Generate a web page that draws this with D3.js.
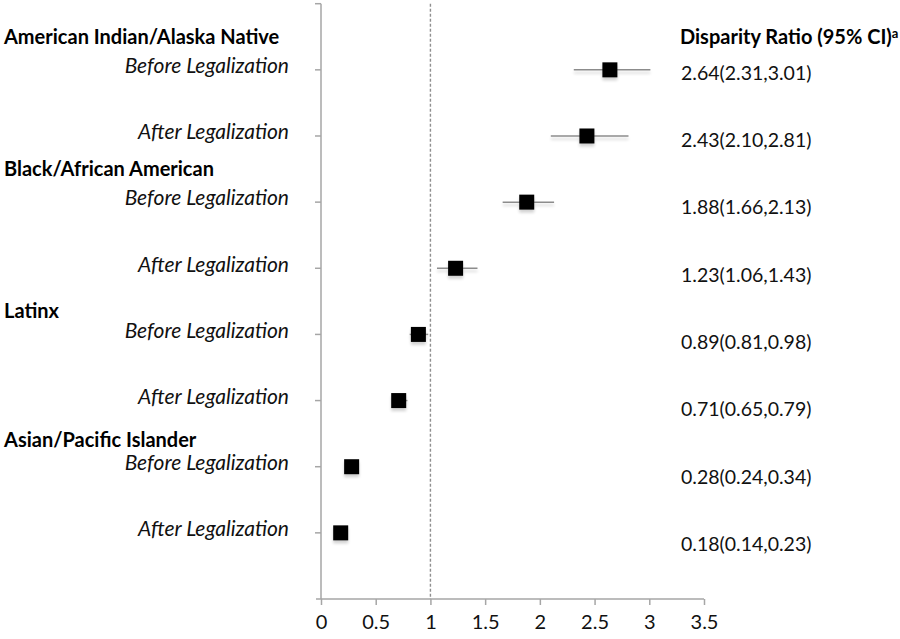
<!DOCTYPE html>
<html>
<head>
<meta charset="utf-8">
<script src="https://cdn.jsdelivr.net/npm/d3@7"></script>
<style>
  body { margin: 0; background: #fff; }
  svg { display: block; font-family: Lato, "Open Sans", sans-serif; }
</style>
</head>
<body>
<div id="chart"></div>
<script>
// data
var groups = ["American Indian/Alaska Native", "Black/African American", "Latinx", "Asian/Pacific Islander"];
var groupRow = [-0.5, 1.5, 3.65, 5.6];   // where each group title sits, in row units
var periods = ["Before Legalization", "After Legalization"];
var ratio = [2.64, 2.43, 1.88, 1.23, 0.89, 0.71, 0.28, 0.18];
var lower = [2.31, 2.10, 1.66, 1.06, 0.81, 0.65, 0.24, 0.14];
var upper = [3.01, 2.81, 2.13, 1.43, 0.98, 0.79, 0.34, 0.23];
var xTicks = [0, 0.5, 1, 1.5, 2, 2.5, 3, 3.5];

var width = 900, height = 639;

var rows = ratio.map(function (d, i) {
    return { i: i, ratio: d, lo: lower[i], hi: upper[i], period: periods[i % 2] };
});

var svg = d3.select("#chart")
    .append("svg")
    .attr("width", width)
    .attr("height", height);

// soft shadow like the original
var defs = svg.append("defs");
var f = defs.append("filter").attr("id", "shadow")
    .attr("x", "-20%").attr("y", "-100%").attr("width", "140%").attr("height", "400%");
f.append("feGaussianBlur").attr("in", "SourceAlpha").attr("stdDeviation", 1.5).attr("result", "b");
f.append("feOffset").attr("in", "b").attr("dy", 3).attr("result", "o");
f.append("feComponentTransfer").attr("in", "o").attr("result", "s")
    .append("feFuncA").attr("type", "linear").attr("slope", 0.18);
var m = f.append("feMerge");
m.append("feMergeNode").attr("in", "s");
m.append("feMergeNode").attr("in", "SourceGraphic");

var x = d3.scaleLinear().domain([0, 3.5]).range([321, 704]);
var y = d3.scaleLinear().domain([-1, 8]).range([3.7, 599]);
var yText = d3.scaleLinear().domain([0, 7]).range([73, 544]);

var axisColor = "#a6a6a6";

// y axis line with tick marks
svg.append("line")
    .attr("x1", x(0)).attr("x2", x(0))
    .attr("y1", y(-1)).attr("y2", y(8))
    .attr("stroke", axisColor).attr("stroke-width", 1.5);

svg.selectAll(".ytick")
    .data(d3.range(-1, 8))
    .enter()
    .append("line")
    .attr("x1", x(0) - 6).attr("x2", x(0))
    .attr("y1", function (d) { return y(d); })
    .attr("y2", function (d) { return y(d); })
    .attr("stroke", axisColor).attr("stroke-width", 1.5);

// x axis
var xAxis = svg.append("g")
    .attr("transform", "translate(0," + y(8) + ")")
    .call(d3.axisBottom(x).tickValues(xTicks).tickSize(6).tickSizeOuter(0).tickPadding(10)
        .tickFormat(function (d) { return d; }));
xAxis.select(".domain").attr("stroke", axisColor).attr("stroke-width", 1.5)
    .attr("d", "M" + (x(0) - 5) + ",0H" + x(3.5));
xAxis.selectAll(".tick line").attr("stroke", axisColor).attr("stroke-width", 1.5);
xAxis.selectAll(".tick text")
    .attr("fill", "#111")
    .style("font-size", "20px")
    .style("font-family", "Lato, 'Open Sans', sans-serif");

// reference line at 1
svg.append("line")
    .attr("x1", x(1)).attr("x2", x(1))
    .attr("y1", y(-1)).attr("y2", y(8))
    .attr("stroke", "#8f8f8f").attr("stroke-width", 1.4)
    .attr("stroke-dasharray", "3,2");

// CI lines and squares
var mark = svg.selectAll(".mark")
    .data(rows)
    .enter()
    .append("g")
    .attr("class", "mark")
    .attr("filter", "url(#shadow)");

mark.append("line")
    .attr("x1", function (d) { return x(d.lo); })
    .attr("x2", function (d) { return x(d.hi); })
    .attr("y1", function (d) { return y(d.i); })
    .attr("y2", function (d) { return y(d.i); })
    .attr("stroke", "#8c8c8c").attr("stroke-width", 1.5);

mark.append("rect")
    .attr("x", function (d) { return x(d.ratio) - 7.5; })
    .attr("y", function (d) { return y(d.i) - 7.5; })
    .attr("width", 15).attr("height", 15)
    .attr("fill", "#000");

// group titles
svg.selectAll(".group")
    .data(groups)
    .enter()
    .append("text")
    .attr("x", 4)
    .attr("y", function (d, i) { return y(groupRow[i]); })
    .attr("dy", "0.35em")
    .style("font-size", "20px")
    .style("font-weight", "bold")
    .attr("fill", "#000")
    .text(function (d) { return d; });

// period labels
svg.selectAll(".period")
    .data(rows)
    .enter()
    .append("text")
    .attr("x", 289)
    .attr("y", function (d) { return y(d.i) - 4; })
    .attr("dy", "0.35em")
    .attr("text-anchor", "end")
    .style("font-size", "21px")
    .style("font-style", "italic")
    .attr("fill", "#111")
    .text(function (d) { return d.period; });

// header and value column
var head = svg.append("text")
    .attr("x", 680).attr("y", y(-0.5))
    .attr("dy", "0.35em")
    .style("font-size", "20px")
    .style("font-weight", "bold")
    .attr("fill", "#000");
head.append("tspan").text("Disparity Ratio (95% CI)");
head.append("tspan").attr("dy", "-0.45em").style("font-size", "13px").text("a");

svg.selectAll(".val")
    .data(rows)
    .enter()
    .append("text")
    .attr("x", 681)
    .attr("y", function (d) { return yText(d.i); })
    .attr("dy", "0.35em")
    .style("font-size", "19.5px")
    .attr("fill", "#111")
    .text(function (d) { return d.ratio.toFixed(2) + "(" + d.lo.toFixed(2) + "," + d.hi.toFixed(2) + ")"; });
</script>
</body>
</html>
